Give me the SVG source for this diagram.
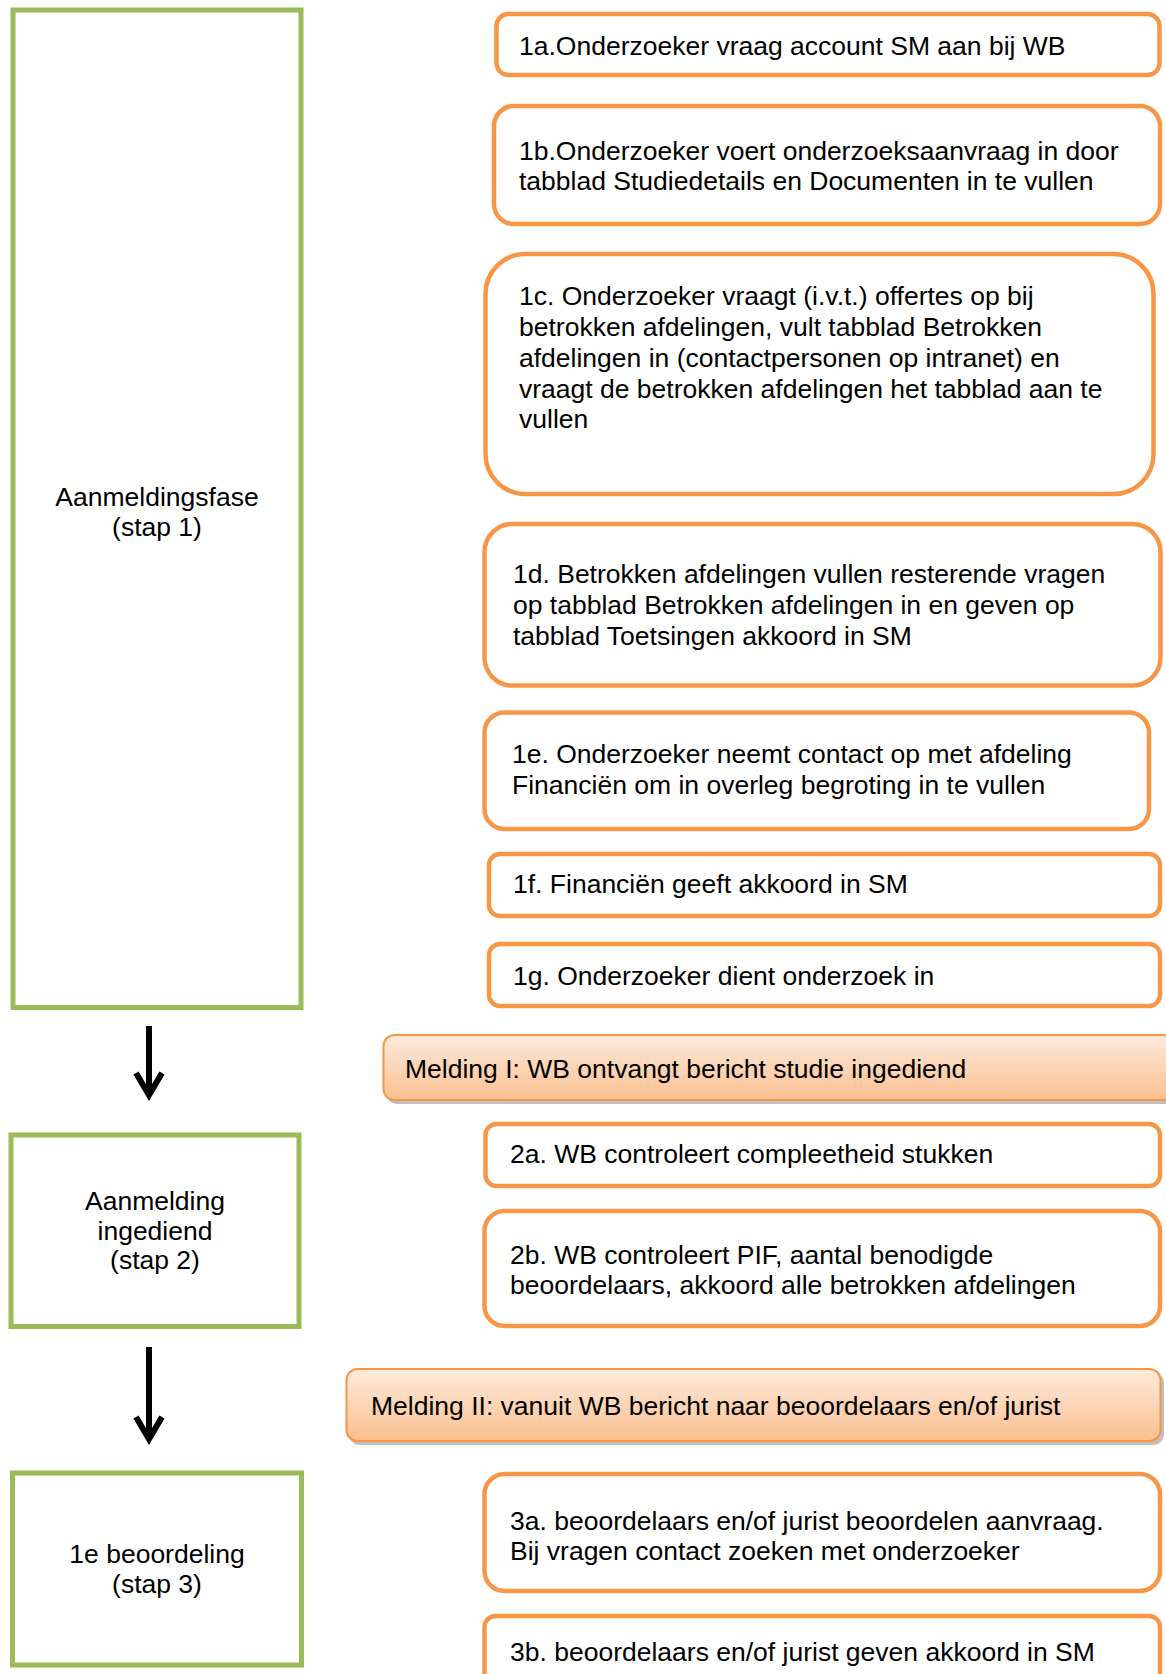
<svg xmlns="http://www.w3.org/2000/svg" width="1166" height="1674" viewBox="0 0 1166 1674">
<defs>
<style>
text{font-family:"Liberation Sans",Arial,sans-serif;font-size:26.5px;fill:#000}
.phase{fill:#fff;stroke:#9BBB59;stroke-width:5}
.step{fill:#fff;stroke:#F79646;stroke-width:4.5}
.msg{fill:url(#mg);stroke:#F79646;stroke-width:2}
.shadow{fill:#8c8c8c;opacity:0.55}
.mid{text-anchor:middle}
.arrow{fill:none;stroke:#000;stroke-width:6}
</style>
<linearGradient id="mg" x1="0" y1="0" x2="0" y2="1">
<stop offset="0" stop-color="#FDEBDD"/>
<stop offset="1" stop-color="#FABF8F"/>
</linearGradient>
</defs>

<g id="phase1">
<rect class="phase" x="13" y="10" width="288" height="997.5"/>
<text class="mid" x="157" y="505.5">Aanmeldingsfase</text>
<text class="mid" x="157" y="535.5">(stap 1)</text>
</g>
<g id="phase2">
<rect class="phase" x="11" y="1135" width="288" height="191.5"/>
<text class="mid" x="155" y="1210">Aanmelding</text>
<text class="mid" x="155" y="1239.5">ingediend</text>
<text class="mid" x="155" y="1269">(stap 2)</text>
</g>
<g id="phase3">
<rect class="phase" x="12.5" y="1473" width="289" height="192"/>
<text class="mid" x="157" y="1563">1e beoordeling</text>
<text class="mid" x="157" y="1593">(stap 3)</text>
</g>

<g id="step1a">
<rect class="step" x="496.5" y="14" width="663" height="61" rx="12"/>
<text x="519" y="55">1a.Onderzoeker vraag account SM aan bij WB</text>
</g>
<g id="step1b">
<rect class="step" x="494" y="106" width="666" height="118" rx="20"/>
<text x="519" y="160">1b.Onderzoeker voert onderzoeksaanvraag in door</text>
<text x="519" y="190">tabblad Studiedetails en Documenten in te vullen</text>
</g>
<g id="step1c">
<rect class="step" x="485.5" y="254" width="668" height="240" rx="40"/>
<text x="519" y="305">1c. Onderzoeker vraagt (i.v.t.) offertes op bij</text>
<text x="519" y="336">betrokken afdelingen, vult tabblad Betrokken</text>
<text x="519" y="367">afdelingen in (contactpersonen op intranet) en</text>
<text x="519" y="398">vraagt de betrokken afdelingen het tabblad aan te</text>
<text x="519" y="428">vullen</text>
</g>
<g id="step1d">
<rect class="step" x="484.5" y="524" width="676" height="161.5" rx="28"/>
<text x="513" y="583">1d. Betrokken afdelingen vullen resterende vragen</text>
<text x="513" y="614">op tabblad Betrokken afdelingen in en geven op</text>
<text x="513" y="645">tabblad Toetsingen akkoord in SM</text>
</g>
<g id="step1e">
<rect class="step" x="484.5" y="712.5" width="664.5" height="116.5" rx="20"/>
<text x="512" y="763">1e. Onderzoeker neemt contact op met afdeling</text>
<text x="512" y="794">Financiën om in overleg begroting in te vullen</text>
</g>
<g id="step1f">
<rect class="step" x="489" y="854" width="671" height="62" rx="11"/>
<text x="513" y="893">1f. Financiën geeft akkoord in SM</text>
</g>
<g id="step1g">
<rect class="step" x="489" y="944" width="671" height="62" rx="11"/>
<text x="513" y="985">1g. Onderzoeker dient onderzoek in</text>
</g>

<g id="msg1">
<rect class="shadow" x="386" y="1038" width="790" height="66" rx="11"/>
<rect class="msg" x="383.5" y="1035" width="790" height="65" rx="11"/>
<text x="405" y="1078">Melding I: WB ontvangt bericht studie ingediend</text>
</g>

<g id="step2a">
<rect class="step" x="485.5" y="1124" width="674.5" height="62" rx="11"/>
<text x="510" y="1163">2a. WB controleert compleetheid stukken</text>
</g>
<g id="step2b">
<rect class="step" x="484.5" y="1211" width="675.5" height="115" rx="20"/>
<text x="510" y="1264">2b. WB controleert PIF, aantal benodigde</text>
<text x="510" y="1294">beoordelaars, akkoord alle betrokken afdelingen</text>
</g>

<g id="msg2">
<rect class="shadow" x="349" y="1372" width="815" height="73" rx="11"/>
<rect class="msg" x="346.5" y="1369" width="814" height="72" rx="11"/>
<text x="371" y="1415">Melding II: vanuit WB bericht naar beoordelaars en/of jurist</text>
</g>

<g id="step3a">
<rect class="step" x="484.5" y="1474" width="675.5" height="117" rx="20"/>
<text x="510" y="1530">3a. beoordelaars en/of jurist beoordelen aanvraag.</text>
<text x="510" y="1560">Bij vragen contact zoeken met onderzoeker</text>
</g>
<g id="step3b">
<rect class="step" x="484.5" y="1616" width="675.5" height="70" rx="11"/>
<text x="510" y="1661">3b. beoordelaars en/of jurist geven akkoord in SM</text>
</g>

<g id="connectors">
<line class="arrow" x1="149" y1="1026" x2="149" y2="1094"/>
<polyline class="arrow" points="136,1073 149,1095 162,1073"/>
<line class="arrow" x1="149" y1="1347" x2="149" y2="1438"/>
<polyline class="arrow" points="136,1417 149,1439 162,1417"/>
</g>
</svg>
